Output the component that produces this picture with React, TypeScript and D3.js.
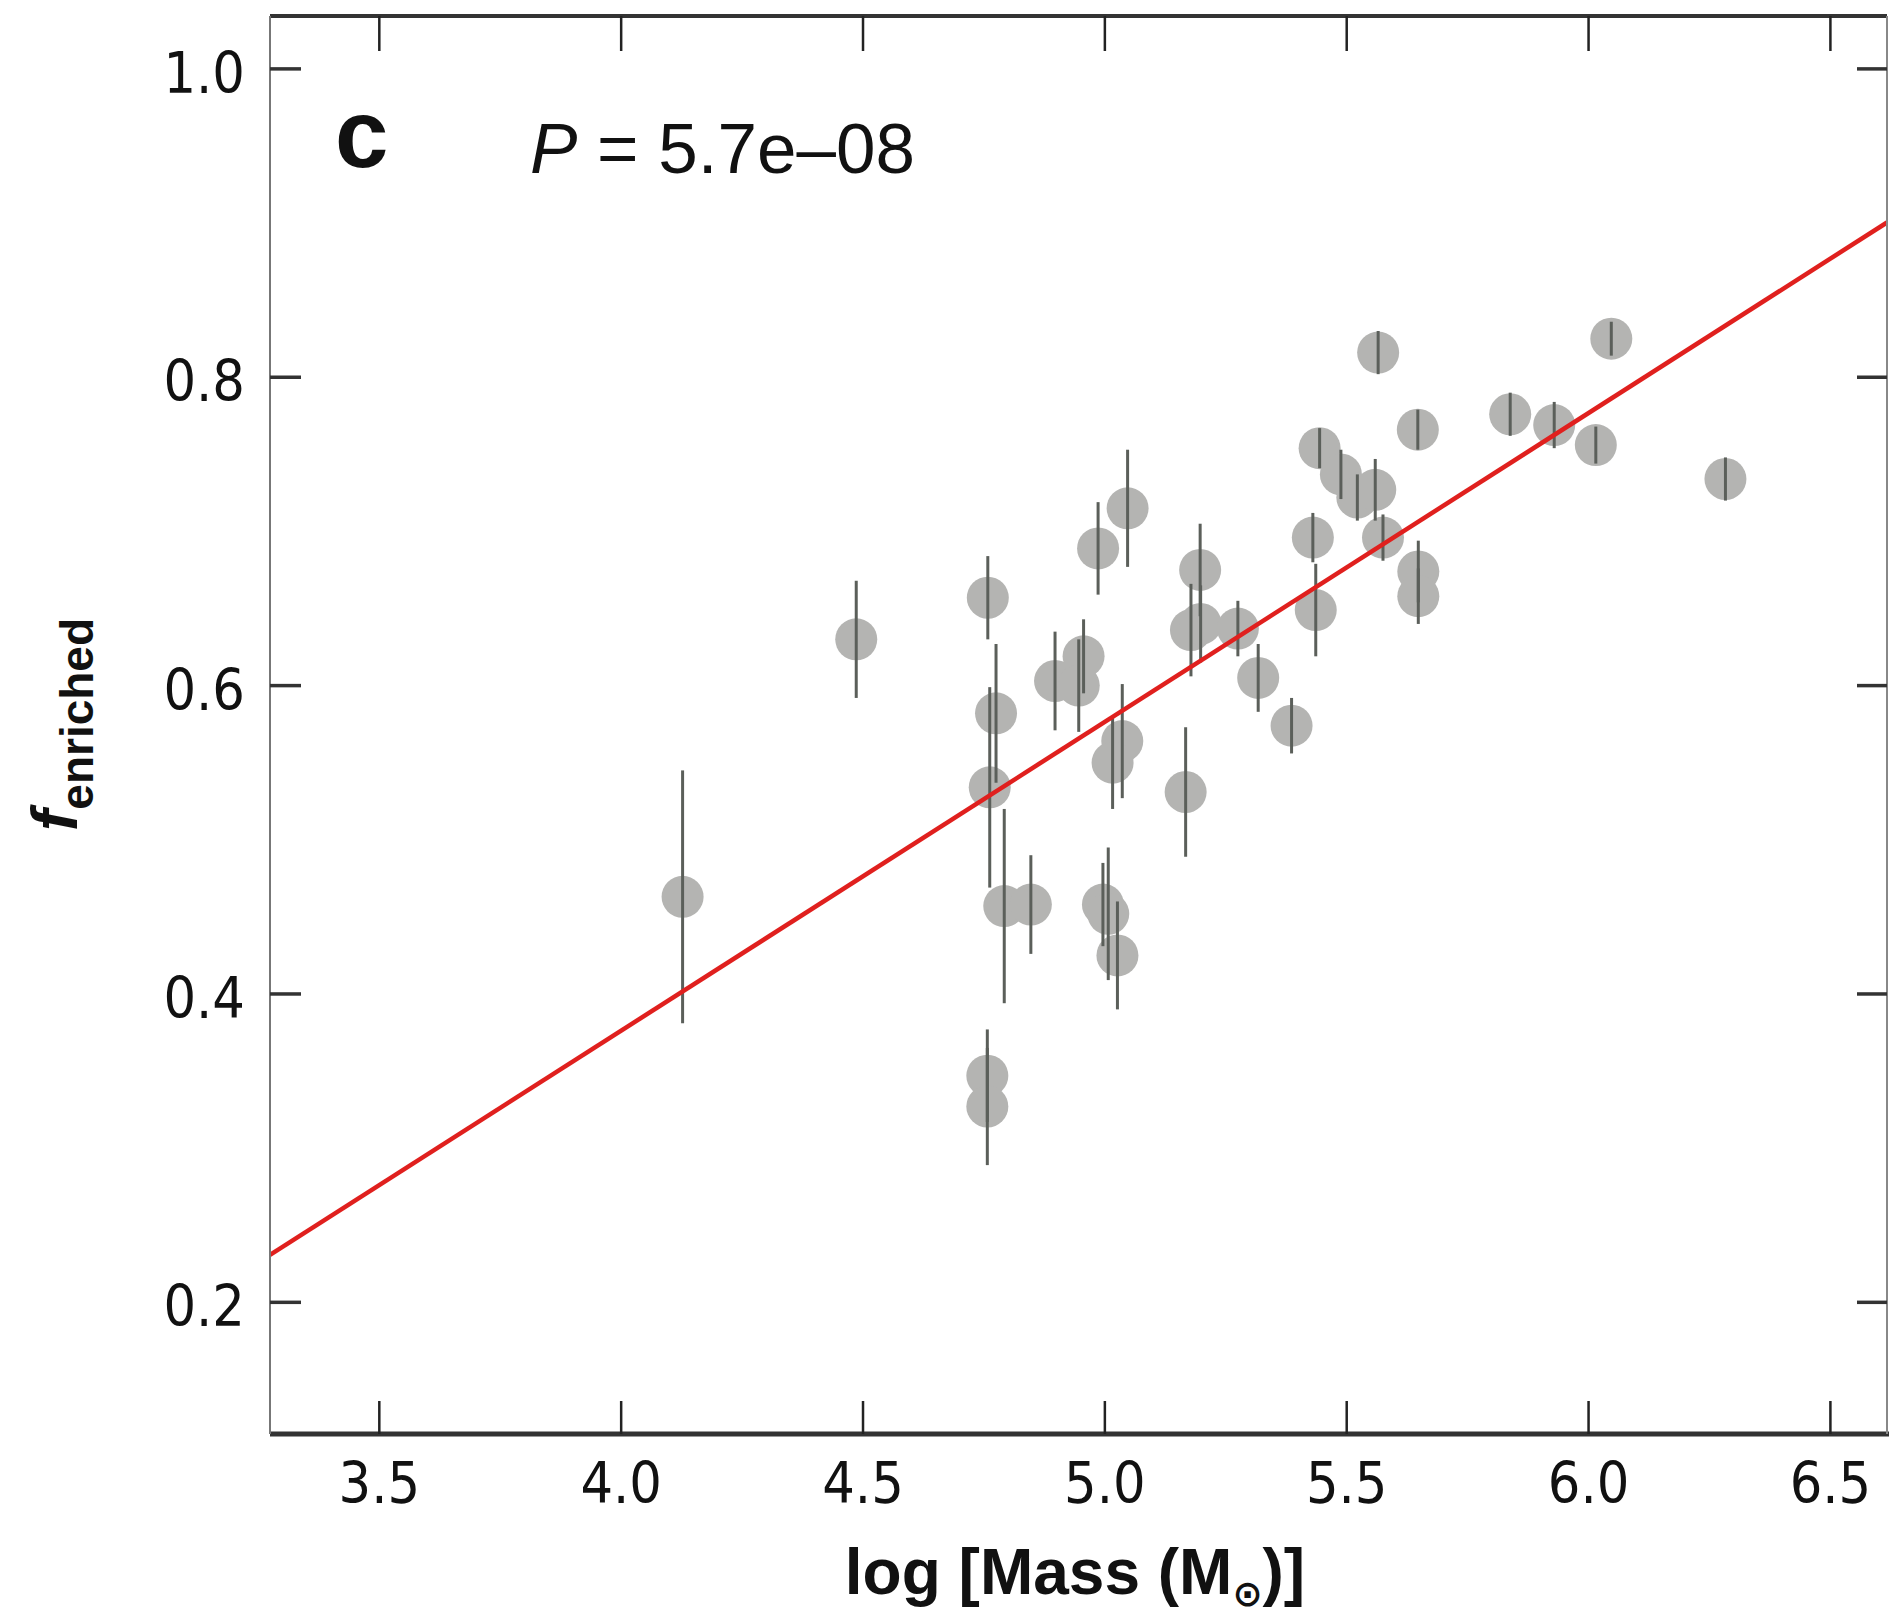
import React from 'react';
import * as d3 from 'd3';

// log mass of each cluster, enriched fraction and its error
const logMass = [
  4.127, 4.486, 4.758, 4.775, 4.762, 4.792, 4.847, 4.757, 4.757, 4.897,
  4.956, 4.946, 4.986, 5.047, 5.036, 5.016, 4.996, 5.007, 5.026, 5.197,
  5.178, 5.198, 5.275, 5.317, 5.386, 5.167, 5.565, 6.047, 5.444, 5.488,
  5.522, 5.559, 5.647, 5.838, 5.929, 6.015, 6.283, 5.43, 5.575, 5.648,
  5.648, 5.436,
];
const fEnriched = [
  0.463, 0.63, 0.657, 0.582, 0.534, 0.457, 0.458, 0.347, 0.327, 0.603,
  0.619, 0.6, 0.689, 0.715, 0.564, 0.55, 0.458, 0.452, 0.425, 0.675,
  0.636, 0.64, 0.637, 0.605, 0.574, 0.531, 0.816, 0.825, 0.754, 0.737,
  0.722, 0.727, 0.766, 0.776, 0.769, 0.756, 0.734, 0.696, 0.696, 0.674,
  0.658, 0.649,
];
const fErr = [
  0.082, 0.038, 0.027, 0.045, 0.065, 0.063, 0.032, 0.03, 0.038, 0.032,
  0.024, 0.03, 0.03, 0.038, 0.037, 0.03, 0.027, 0.043, 0.035, 0.03,
  0.03, 0.025, 0.018, 0.022, 0.018, 0.042, 0.014, 0.011, 0.013, 0.016,
  0.015, 0.02, 0.013, 0.014, 0.015, 0.012, 0.014, 0.016, 0.015, 0.02,
  0.018, 0.03,
];

const xTicks = [3.5, 4.0, 4.5, 5.0, 5.5, 6.0, 6.5];
const yTicks = [0.2, 0.4, 0.6, 0.8, 1.0];

// linear fit
const fitSlope = 0.2003;
const fitIntercept = -0.425;
const pLabel = '5.7e\u201308';

const W = 1889;
const H = 1619;
const L = 270, R = 1887, T = 16, B = 1434;

const x = d3.scaleLinear().domain([3.274, 6.617]).range([L, R]);
const y = d3.scaleLinear().domain([0.1146, 1.0343]).range([B, T]);

const tickFont = '"Liberation Sans Narrow", "DejaVu Sans Condensed", sans-serif';
const mainFont = '"Liberation Sans", Arial, sans-serif';

export default function App() {
  const points = logMass.map((m, i) => ({ m, f: fEnriched[i], e: fErr[i] }));
  const [x0, x1] = x.domain();
  const fitLine = d3.line<number>()
    .x((d) => x(d))
    .y((d) => y(fitIntercept + fitSlope * d));

  return (
    <svg width={W} height={H} style={{ position: 'absolute', left: 0, top: 0, background: '#fff' }}>
      <defs>
        <clipPath id="plot">
          <rect x={L} y={T} width={R - L} height={B - T} />
        </clipPath>
      </defs>

      <g clipPath="url(#plot)">
        {points.map((p, i) => (
          <circle key={'c' + i} cx={x(p.m)} cy={y(p.f)} r={21} fill="#b4b4b2" />
        ))}
        {points.map((p, i) => (
          <line key={'e' + i} x1={x(p.m)} x2={x(p.m)} y1={y(p.f - p.e)} y2={y(p.f + p.e)}
            stroke="#5b5f5a" strokeWidth={3} />
        ))}
        <path d={fitLine([x0, x1]) || ''} fill="none" stroke="#e0201e" strokeWidth={4.5} />
      </g>

      {/* frame */}
      <line x1={L} x2={R} y1={T} y2={T} stroke="#333" strokeWidth={4} />
      <line x1={L} x2={R + 2} y1={B} y2={B} stroke="#333" strokeWidth={5} />
      <line x1={L} x2={L} y1={T} y2={B} stroke="#777" strokeWidth={2} />
      <line x1={R} x2={R} y1={T} y2={B} stroke="#888" strokeWidth={2} />

      {xTicks.map((t) => (
        <g key={'x' + t}>
          <line x1={x(t)} x2={x(t)} y1={B} y2={B - 33} stroke="#222" strokeWidth={2.5} />
          <line x1={x(t)} x2={x(t)} y1={T} y2={T + 35} stroke="#222" strokeWidth={2.5} />
          <text x={x(t)} y={1503} textAnchor="middle" fontFamily={tickFont} fontSize={57} fill="#111">
            {t.toFixed(1)}
          </text>
        </g>
      ))}
      {yTicks.map((t) => (
        <g key={'y' + t}>
          <line x1={L} x2={L + 31} y1={y(t)} y2={y(t)} stroke="#333" strokeWidth={3.5} />
          <line x1={R} x2={R - 30} y1={y(t)} y2={y(t)} stroke="#333" strokeWidth={3.5} />
          <text x={245} y={y(t) + 24} textAnchor="end" fontFamily={tickFont} fontSize={57} fill="#111">
            {t.toFixed(1)}
          </text>
        </g>
      ))}

      <text x={335} y={167} fontFamily={mainFont} fontWeight="bold" fontSize={96} fill="#111">c</text>
      <text x={530} y={173} fontFamily={mainFont} fontSize={71} fill="#111">
        <tspan fontStyle="italic">P</tspan>
        <tspan> = {pLabel}</tspan>
      </text>

      <text x={1075} y={1594} textAnchor="middle" fontFamily={mainFont} fontWeight="bold" fontSize={64} fill="#111">
        <tspan>log [Mass (M</tspan>
        <tspan fontSize={36} dy={12} fontFamily='"DejaVu Sans", sans-serif'>{'\u2299'}</tspan>
        <tspan dy={-12}>)]</tspan>
      </text>

      <text transform="translate(77,831) rotate(-90)" fontFamily={mainFont} fontWeight="bold" fill="#111">
        <tspan fontSize={64} fontStyle="italic">f</tspan>
        <tspan fontSize={46} dy={16}>enriched</tspan>
      </text>
    </svg>
  );
}
